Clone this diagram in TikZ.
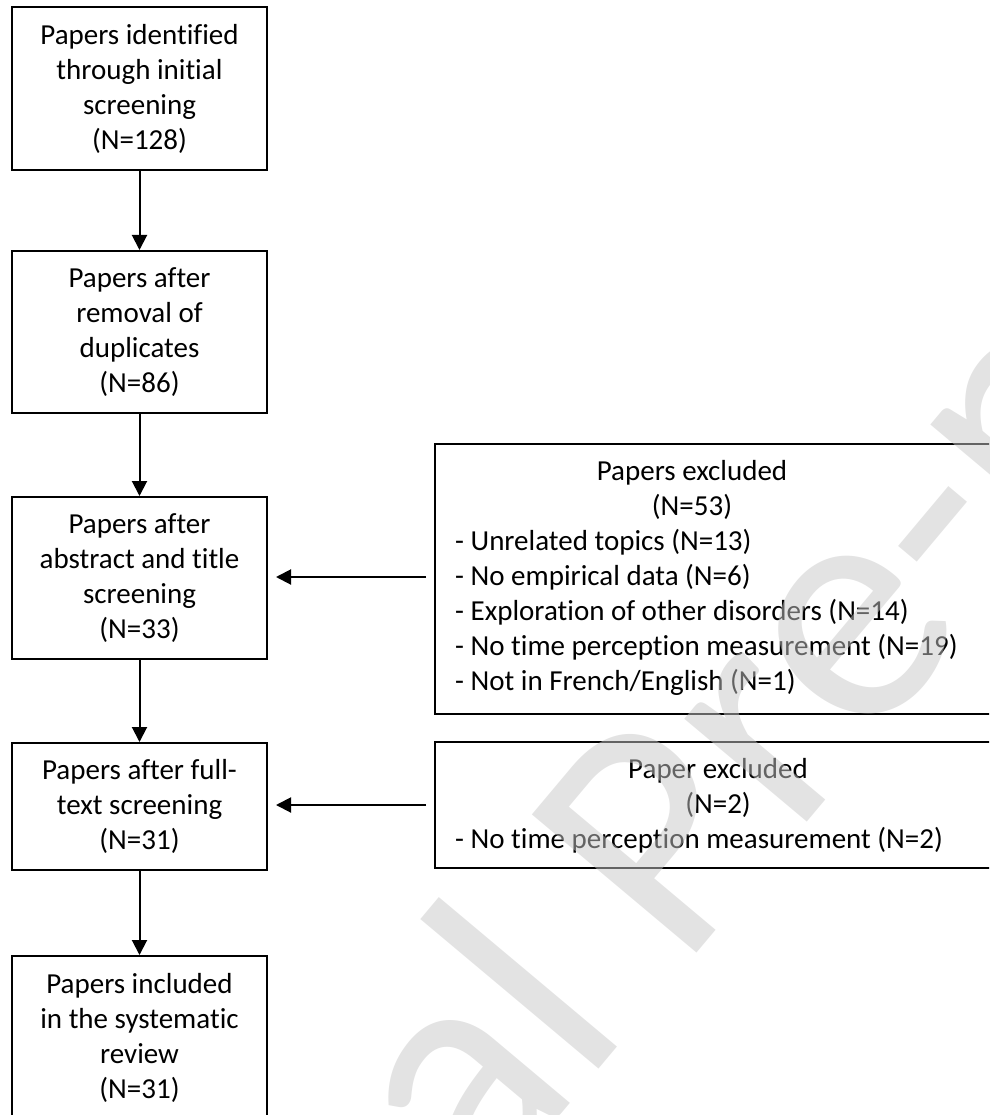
\documentclass[tikz,border=0pt]{standalone}
\usepackage{fontspec}
\setmainfont[Ligatures=NoCommon]{Carlito}
\usetikzlibrary{arrows.meta}
\begin{document}
\begin{tikzpicture}[x=1pt,y=-1pt,
  box/.style={draw, line width=2pt, rectangle, inner sep=0pt, align=center,
    font=\fontsize{29}{35}\selectfont},
  frame/.style={draw, line width=2pt, rectangle, inner sep=0pt},
  arr/.style={line width=2pt, -{Triangle[length=15pt,width=15pt]}},
  harr/.style={arr, shorten <=8pt, shorten >=8pt},
  txt/.style={inner sep=0pt, font=\fontsize{29}{35}\selectfont},
  wm/.style={inner sep=0pt, text=black!22, text opacity=0.5,
    font=\fontsize{335}{335}\selectfont},
]
\path[use as bounding box] (0,0) rectangle (989,1115);
\clip (0,0) rectangle (989,1115);

% left column
\node[box, minimum width=255pt, minimum height=163pt] (b1) at (139.5,88.5)
  {Papers identified\\through initial\\screening\\(N=128)};
\node[box, minimum width=255pt, minimum height=162pt] (b2) at (139.5,332)
  {Papers after\\removal of\\duplicates\\(N=86)};
\node[box, minimum width=255pt, minimum height=162pt] (b3) at (139.5,578)
  {Papers after\\abstract and title\\screening\\(N=33)};
\node[box, minimum width=255pt, minimum height=127pt] (b4) at (139.5,806.5)
  {Papers after full-\\text screening\\(N=31)};
\node[box, minimum width=255pt, minimum height=163pt] (b5) at (139.5,1037.5)
  {Papers included\\in the systematic\\review\\(N=31)};

% right column
\node[frame, minimum width=565pt, minimum height=270pt] (r1) at (717.5,579) {};
\node[txt, anchor=base] (r1a) at (692,480) {Papers excluded};
\node[txt, anchor=base] (r1b) at (692,515) {(N=53)};
\node[txt, anchor=base west] (r1c) at (455,550) {- Unrelated topics (N=13)};
\node[txt, anchor=base west] (r1d) at (455,585) {- No empirical data (N=6)};
\node[txt, anchor=base west] (r1e) at (455,620) {- Exploration of other disorders (N=14)};
\node[txt, anchor=base west] (r1f) at (455,655) {- No time perception measurement (N=19)};
\node[txt, anchor=base west] (r1g) at (455,690) {- Not in French/English (N=1)};

\node[frame, minimum width=565pt, minimum height=126pt] (r2) at (717.5,805) {};
\node[txt, anchor=base] (r2a) at (718,778) {Paper excluded};
\node[txt, anchor=base] (r2b) at (718,813) {(N=2)};
\node[txt, anchor=base west] (r2c) at (455,848) {- No time perception measurement (N=2)};

% connectors
\draw[arr] (b1) -- (b2);
\draw[arr] (b2) -- (b3);
\draw[arr] (b3) -- (b4);
\draw[arr] (b4) -- (b5);
\draw[harr] ([yshift=2pt]r1.west) -- ([yshift=2pt]r1.west -| b3.east);
\draw[harr] (r2.west) -- (r2.west -| b4.east);

% watermark
\node[wm, anchor=base west, rotate=50] (wmk) at (-3,1787) {Journal Pre-proof};
\end{tikzpicture}
\end{document}
